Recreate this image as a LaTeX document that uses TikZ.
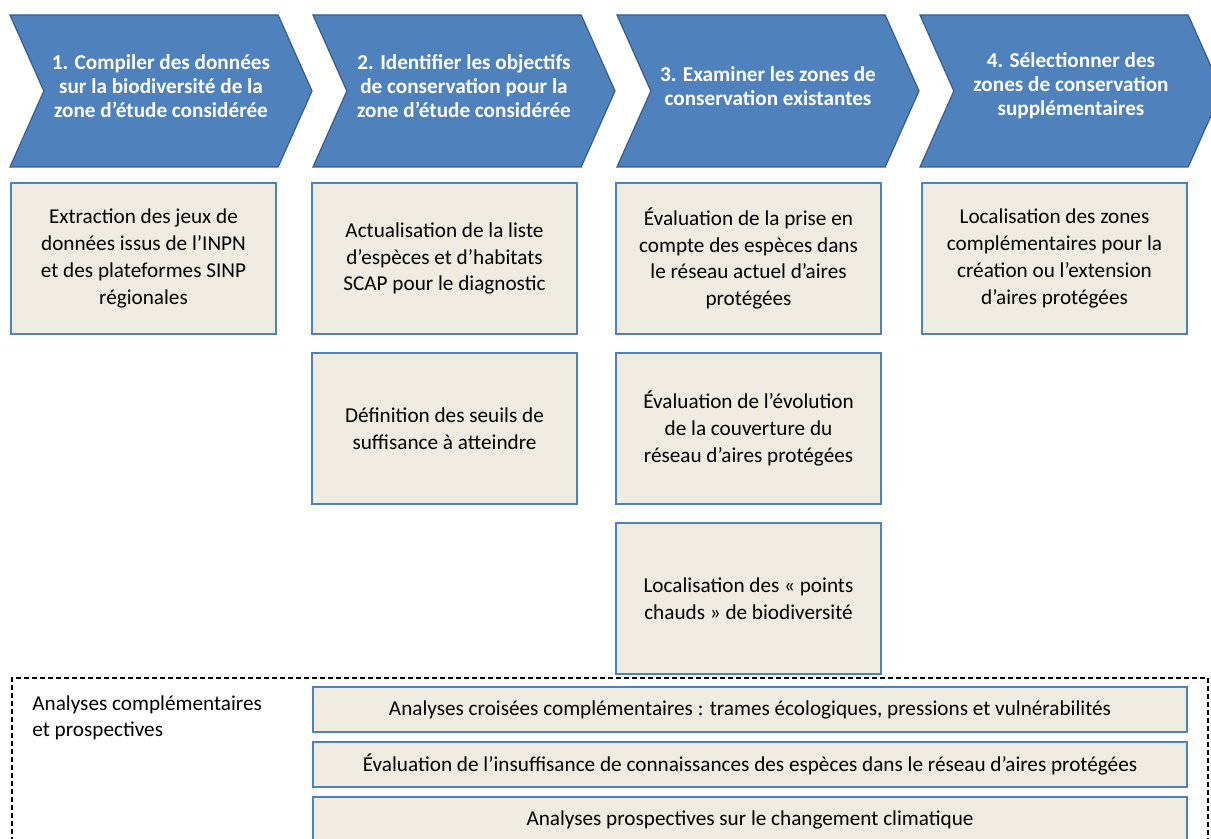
\documentclass[tikz,border=0pt]{standalone}
\usepackage{fontspec}
\setmainfont{Carlito}
\usetikzlibrary{positioning,shapes.symbols}
\definecolor{StepBlue}{HTML}{4F81BD}
\definecolor{StepEdge}{HTML}{385D8A}
\definecolor{BoxTan}{HTML}{EEECE1}
\tikzset{
  chevron/.style={signal, signal from=west, signal to=east, signal pointer angle=132,
    fill=StepBlue, draw=StepEdge, line width=0.6pt, minimum width=151pt, minimum height=76pt,
    inner sep=0pt},
  steptext/.style={white, font=\bfseries\fontsize{10.6}{12}\selectfont, align=center},
  task/.style={rectangle, fill=BoxTan, draw=StepBlue, line width=1pt, minimum width=132.5pt,
    minimum height=75.5pt, inner sep=0pt, align=center, font=\fontsize{10.6}{13.4}\selectfont},
  extra/.style={task, minimum width=437pt, minimum height=22.5pt},
}
\begin{document}
\begin{tikzpicture}[x=0.5pt, y=-0.5pt]
        \useasboundingbox (0,0) rectangle (1211,839);
        % blue steps
        \node[chevron] (C1) at (161,91) {};
        \node[chevron] (C2) at (464,91) {};
        \node[chevron] (C3) at (768,91) {};
        \node[chevron] (C4) at (1071,91) {};
        \node[steptext] (T1) at (161,86) {1. Compiler des données\\sur la biodiversité de la\\zone d’étude considérée};
        \node[steptext] (T2) at (464,86) {2. Identifier les objectifs\\de conservation pour la\\zone d’étude considérée};
        \node[steptext] (T3) at (768,86) {3. Examiner les zones de\\conservation existantes};
        \node[steptext] (T4) at (1071,86) {4. Sélectionner des\\zones de conservation\\supplémentaires};

        % tasks
        \node[task] (B1) at (143.5,258.5) {Extraction des jeux de\\données issus de l’INPN\\et des plateformes SINP\\régionales};
        \node[task] (B2) at (444.5,258.5) {Actualisation de la liste\\d’espèces et d’habitats\\SCAP pour le diagnostic};
        \node[task, below=8.5pt of B2] (B21) {Définition des seuils de\\suffisance à atteindre};
        \node[task] (B3) at (748.5,258.5) {Évaluation de la prise en\\compte des espèces dans\\le réseau actuel d’aires\\protégées};
        \node[task, below=8.5pt of B3] (B31) {Évaluation de l’évolution\\de la couverture du\\réseau d’aires protégées};
        \node[task, below=8.5pt of B31] (B32) {Localisation des « points\\chauds » de biodiversité};
        \node[task] (B4) at (1054.5,258.5) {Localisation des zones\\complémentaires pour la\\création ou l’extension\\d’aires protégées};

        % dashed frame and extra analyses
        \coordinate (FL) at (12,850);
        \coordinate (FTL) at (12,678);
        \coordinate (FTR) at (1208,678);
        \coordinate (FR) at (1208,850);
        \draw[dash pattern=on 2.5pt off 1.5pt, line width=0.7pt] (FL) -- (FTL) -- (FTR) -- (FR);
        \node[anchor=north west, align=left, inner sep=0pt, font=\fontsize{10.6}{13.4}\selectfont] (AL) at (32,695) {Analyses complémentaires\\et prospectives};
        \node[extra] (E1) at (750,709.5) {Analyses croisées complémentaires : trames écologiques, pressions et vulnérabilités};
        \node[extra, below=4pt of E1] (E2) {Évaluation de l’insuffisance de connaissances des espèces dans le réseau d’aires protégées};
        \node[extra, below=4pt of E2] (E3) {Analyses prospectives sur le changement climatique};
\end{tikzpicture}
\end{document}
